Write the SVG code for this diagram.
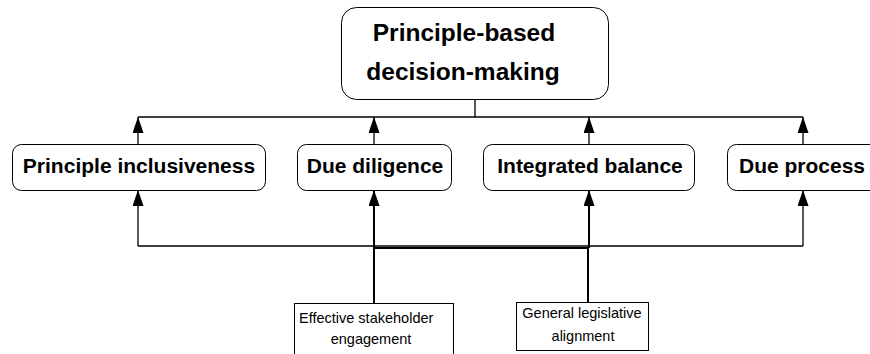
<svg xmlns="http://www.w3.org/2000/svg" width="870" height="354" viewBox="0 0 870 354">
  <style>
    .box { fill: #ffffff; stroke: #000000; stroke-width: 1; }
    .sq { fill: #ffffff; stroke: #000000; stroke-width: 1; }
    .title { font-family: "Liberation Sans", Arial, sans-serif; font-weight: bold; font-size: 24.5px; fill: #000000; }
    .label { font-family: "Liberation Sans", Arial, sans-serif; font-weight: bold; font-size: 21px; fill: #000000; }
    .small { font-family: "Liberation Sans", Arial, sans-serif; font-size: 14.5px; fill: #000000; }
    .wire { fill: none; stroke: #000000; stroke-width: 1.3; }
    .wire2 { fill: none; stroke: #000000; stroke-width: 2; }
    .arrow { fill: none; stroke: #000000; stroke-width: 1.3; marker-end: url(#head); }
    .arrow2 { fill: none; stroke: #000000; stroke-width: 2; marker-end: url(#head); }
  </style>
  <defs>
    <!-- solid triangular arrowhead, 16 long x 11 wide -->
    <marker id="head" markerUnits="userSpaceOnUse" markerWidth="16" markerHeight="11" refX="16" refY="5.5" orient="auto" viewBox="0 0 16 11">
      <path d="M0,0 L16,5.5 L0,11 Z" fill="#000000"/>
    </marker>
  </defs>

  <rect width="870" height="354" fill="#ffffff"/>

  <!-- connectors -->
  <g id="connectors">
    <!-- top bus -->
    <path class="wire" d="M475,99 V117"/>
    <path class="wire" d="M138,117 H803"/>
    <path class="arrow" d="M138,144 V117"/>
    <path class="arrow" d="M374,144 V117"/>
    <path class="arrow" d="M589,144 V117"/>
    <path class="arrow" d="M803,144 V117"/>
    <!-- bottom bus -->
    <path class="wire" d="M138,246 H803"/>
    <path class="wire2" d="M374,248 H588"/>
    <path class="arrow" d="M138,246 V190"/>
    <path class="arrow2" d="M374,248 V190"/>
    <path class="arrow2" d="M589,248 V190"/>
    <path class="arrow" d="M803,246 V190"/>
    <!-- feeders from the lower boxes -->
    <path class="wire2" d="M374,303 V247"/>
    <path class="wire2" d="M588,302 V247"/>
  </g>

  <g id="node-main">
    <rect class="box" x="341.5" y="7.5" width="267" height="92" rx="15"/>
    <text class="title" x="464" y="41" text-anchor="middle">Principle-based</text>
    <text class="title" x="463" y="80" text-anchor="middle">decision-making</text>
  </g>

  <g id="node-inclusiveness">
    <rect class="box" x="12.5" y="144.5" width="253" height="46" rx="9"/>
    <text class="label" x="139" y="173" text-anchor="middle">Principle inclusiveness</text>
  </g>

  <g id="node-diligence">
    <rect class="box" x="297.5" y="144.5" width="154" height="46" rx="9"/>
    <text class="label" x="375" y="173" text-anchor="middle">Due diligence</text>
  </g>

  <g id="node-balance">
    <rect class="box" x="483.5" y="144.5" width="211" height="46" rx="9"/>
    <text class="label" x="590" y="173" text-anchor="middle">Integrated balance</text>
  </g>

  <g id="node-process">
    <rect class="box" x="727.5" y="144.5" width="160" height="46" rx="9"/>
    <text class="label" x="739" y="173">Due process</text>
  </g>

  <g id="node-stakeholder">
    <rect class="sq" x="294.5" y="303.5" width="159" height="60"/>
    <text class="small" x="299" y="323">Effective stakeholder</text>
    <text class="small" x="371" y="344" text-anchor="middle">engagement</text>
  </g>

  <g id="node-legislative">
    <rect class="sq" x="516.5" y="302.5" width="132" height="48"/>
    <text class="small" x="582" y="318" text-anchor="middle">General legislative</text>
    <text class="small" x="583" y="341" text-anchor="middle">alignment</text>
  </g>
</svg>
